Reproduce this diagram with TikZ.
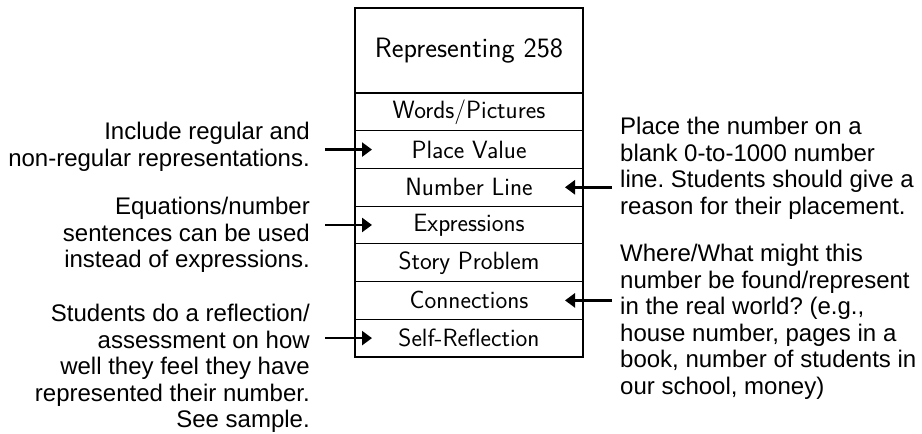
\documentclass[tikz,border=0pt]{standalone}
\usepackage{fontspec}
\setmainfont{Liberation Sans}
\usetikzlibrary{positioning, arrows.meta}
\frenchspacing
\tikzstyle{title} = [rectangle, outer sep=0pt, line width=1.2pt, minimum width=228pt, minimum height=85pt, text centered, draw=black, font=\sffamily\fontsize{28}{32}\selectfont]
\tikzstyle{cell} = [rectangle, outer sep=0pt, line width=1.2pt, minimum width=228pt, minimum height=37.71pt, text centered, draw=black, font=\sffamily\fontsize{25}{28}\selectfont]
\tikzstyle{lnote} = [inner sep=0pt, align=right, anchor=north east, font=\fontsize{24}{26.6}\selectfont]
\tikzstyle{rnote} = [inner sep=0pt, align=left, anchor=north west, font=\fontsize{24}{26.6}\selectfont]
\tikzstyle{edge} = [line width=2.5pt, ->, >={Triangle[length=10pt, width=14pt]}]

\begin{document}
\begin{tikzpicture}[x=1pt, y=-1pt]
\useasboundingbox (0,0) rectangle (922,434);

\node (0) [title] at (469,50.5) {Representing 258};
\node (1) [cell, below=0pt of 0] {Words/Pictures};
\node (2) [cell, below=0pt of 1] {Place Value};
\node (3) [cell, below=0pt of 2] {Number Line};
\node (4) [cell, below=0pt of 3] {Expressions};
\node (5) [cell, below=0pt of 4] {Story Problem};
\node (6) [cell, below=0pt of 5] {Connections};
\node (7) [cell, below=0pt of 6] {Self-Reflection};

\node (8) [lnote] at (310,122) {Include regular and\\non-regular representations.};
\node (9) [lnote] at (310,197) {Equations/number\\sentences can be used\\instead of expressions.};
\node (10) [lnote] at (310,304) {Students do a reflection/\\assessment on how\\well they feel they have\\represented their number.\\See sample.};
\node (11) [rnote] at (620,117) {Place the number on a\\blank 0-to-1000 number\\line. Students should give a\\reason for their placement.};
\node (12) [rnote] at (620,244) {Where/What might this\\number be found/represent\\in the real world? (e.g.,\\house number, pages in a\\book, number of students in\\our school, money)};

\draw [edge, shorten <=15pt] (8.east |- 2) -- ([xshift=17pt]2.west);
\draw [edge, shorten <=15pt] (9.east |- 4) -- ([xshift=17pt]4.west);
\draw [edge, shorten <=15pt] (10.east |- 7) -- ([xshift=17pt]7.west);
\draw [edge, shorten <=8pt] (11.west |- 3) -- ([xshift=-18pt]3.east);
\draw [edge, shorten <=8pt] (12.west |- 6) -- ([xshift=-18pt]6.east);

\end{tikzpicture}
\end{document}
